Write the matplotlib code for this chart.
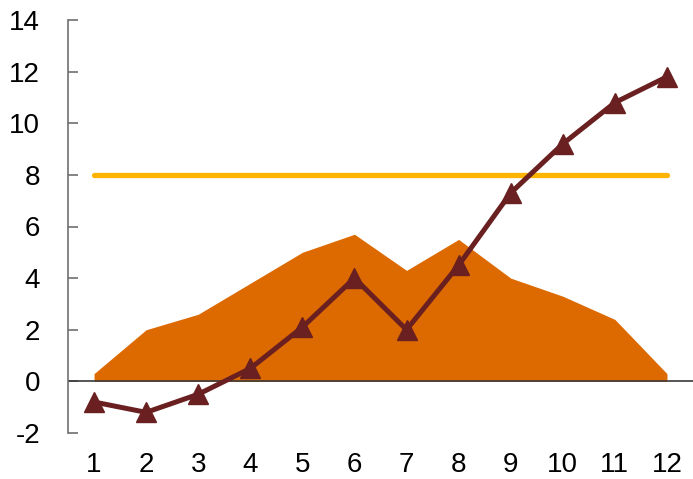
import matplotlib.pyplot as plt

# monthly values
months = [1, 2, 3, 4, 5, 6, 7, 8, 9, 10, 11, 12]
area_vals = [0.3, 2.0, 2.6, 3.8, 5.0, 5.7, 4.3, 5.5, 4.0, 3.3, 2.4, 0.3]
line_vals = [-0.8, -1.2, -0.5, 0.5, 2.1, 4.0, 2.0, 4.5, 7.3, 9.2, 10.8, 11.8]
target = [8] * 12

plt.rcParams['font.family'] = ['Liberation Sans', 'DejaVu Sans']
plt.rcParams['axes.unicode_minus'] = False

fig = plt.figure(figsize=(6.93, 4.79), dpi=100)
ax = fig.add_axes([68 / 693, 1 - 433 / 479, 625 / 693, 413 / 479])

ax.fill_between(months, area_vals, 0, color='#DD6A00', linewidth=0, zorder=1)
ax.axhline(0, color='#3a3a3a', linewidth=1.2, zorder=2)
ax.plot(months, target, color='#FFB400', linewidth=3.8, solid_capstyle='round', zorder=3)
ax.plot(months, line_vals, color='#6A2020', linewidth=3.6, marker='^',
        markersize=15, zorder=4)

ax.set_xlim(0.5, 12.5)
ax.set_ylim(-2, 14)
ax.set_yticks(range(-2, 15, 2))
ax.set_xticks(months)

for side in ['top', 'right', 'bottom']:
    ax.spines[side].set_visible(False)
ax.spines['left'].set_color('#707070')
ax.spines['left'].set_linewidth(1.2)

ax.tick_params(axis='y', direction='in', length=7, width=1.2, color='#707070',
               labelsize=20, pad=20)
ax.tick_params(axis='x', length=0, labelsize=20, pad=14)

plt.savefig('out.png', dpi=100)
